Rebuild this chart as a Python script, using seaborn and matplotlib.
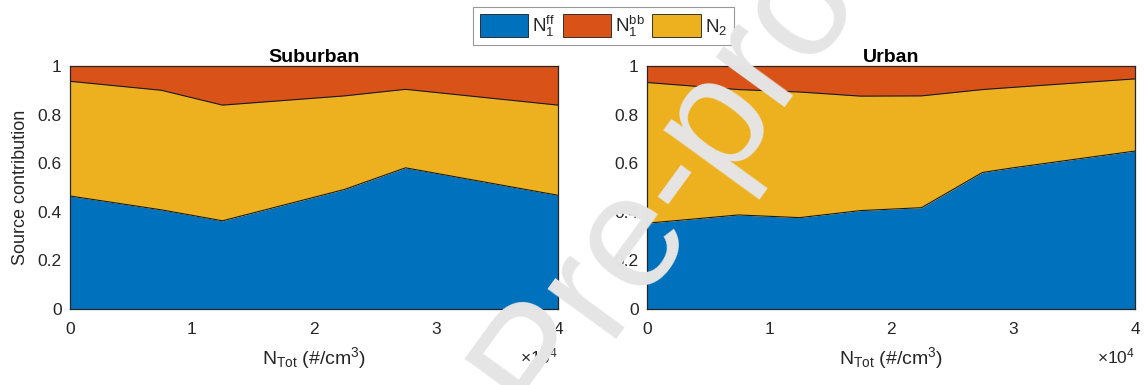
import matplotlib
matplotlib.use("Agg")
import matplotlib.pyplot as plt
import numpy as np
import pandas as pd
import seaborn as sns

# Particle number concentration (#/cm3) at which the source fractions are resolved
n_tot_suburban = [0, 7500, 12500, 22500, 27500, 40000]
n_tot_urban = [0, 7500, 12500, 17500, 22500, 27500, 30000, 40000]

# Source fractions: fossil-fuel N1, biomass-burning N1 and nucleation-mode N2
ff_suburban = [0.465, 0.408, 0.363, 0.492, 0.581, 0.468]
n2_suburban = [0.472, 0.492, 0.476, 0.385, 0.323, 0.371]
bb_suburban = [0.063, 0.100, 0.161, 0.123, 0.096, 0.161]

ff_urban = [0.353, 0.387, 0.376, 0.405, 0.417, 0.562, 0.581, 0.650]
n2_urban = [0.579, 0.516, 0.517, 0.471, 0.460, 0.341, 0.331, 0.297]
bb_urban = [0.068, 0.097, 0.107, 0.124, 0.123, 0.097, 0.088, 0.053]

panel_titles = ["Suburban", "Urban"]
source_labels = [r"N$_1^{\rm ff}$", r"N$_1^{\rm bb}$", r"N$_2$"]
x_ticks = [0, 10000, 20000, 30000, 40000]
x_tick_labels = ["0", "1", "2", "3", "4"]
y_ticks = [0, 0.2, 0.4, 0.6, 0.8, 1.0]
y_tick_labels = ["0", "0.2", "0.4", "0.6", "0.8", "1"]

C_FF = "#0072BD"
C_BB = "#D95319"
C_N2 = "#EDB120"
INK = "#262626"

sns.set_theme(style="white")
plt.rcParams["font.family"] = ["Liberation Sans", "DejaVu Sans"]
plt.rcParams["mathtext.fontset"] = "custom"
plt.rcParams["mathtext.rm"] = "Liberation Sans"
plt.rcParams["mathtext.it"] = "Liberation Sans:italic"
plt.rcParams["mathtext.bf"] = "Liberation Sans:bold"

W, H = 1145, 385
fig = plt.figure(figsize=(W / 100, H / 100), dpi=100)
fig.patch.set_facecolor("white")

panels = [
    (n_tot_suburban, ff_suburban, n2_suburban, bb_suburban, 70),
    (n_tot_urban, ff_urban, n2_urban, bb_urban, 647),
]

axes = []
for (x, ff, n2, bb, left_px), title in zip(panels, panel_titles):
    ax = fig.add_axes([left_px / W, (H - 309) / H, 488 / W, 243 / H])
    axes.append(ax)
    df = pd.DataFrame({"n_tot": x, "ff": ff, "n2": n2, "bb": bb})
    df["ff_top"] = df["ff"]
    df["n2_top"] = df["ff"] + df["n2"]
    df["bb_top"] = df["n2_top"] + df["bb"]

    ax.fill_between(df["n_tot"], 0, df["ff_top"], color=C_FF, lw=0, zorder=1)
    ax.fill_between(df["n_tot"], df["ff_top"], df["n2_top"], color=C_N2, lw=0, zorder=1)
    ax.fill_between(df["n_tot"], df["n2_top"], df["bb_top"], color=C_BB, lw=0, zorder=1)
    for col in ["ff_top", "n2_top"]:
        sns.lineplot(data=df, x="n_tot", y=col, ax=ax, color="#1a1a1a",
                     lw=0.8, zorder=2, legend=False)

    ax.set_xlim(0, 40000)
    ax.set_ylim(0, 1)
    ax.set_xticks(x_ticks)
    ax.set_xticklabels(x_tick_labels)
    ax.set_yticks(y_ticks)
    ax.set_yticklabels(y_tick_labels)
    ax.tick_params(direction="in", length=4, width=0.6, color=INK,
                   top=True, right=True, labelsize=12.5, labelcolor=INK, pad=6)
    ax.tick_params(axis="x", pad=9)
    for s in ax.spines.values():
        s.set_color(INK)
        s.set_linewidth(0.9)
        s.set_zorder(5)
    ax.set_title(title, fontsize=14, fontweight="bold", color="black", pad=3)
    ax.set_xlabel(r"N$_{\rm Tot}$ (#/cm$^3$)", fontsize=14, color=INK, labelpad=6)
    ax.set_ylabel("")
    ax.text(1.0, -0.222, r"$\times$10$^{4}$", transform=ax.transAxes,
            ha="right", va="baseline", fontsize=12.5, color=INK)

axes[0].set_ylabel("Source contribution", fontsize=13, color=INK, labelpad=6)

# Shared legend above the two panels
handles = [plt.Rectangle((0, 0), 1, 1, facecolor=c, edgecolor="#1a1a1a", lw=0.6)
           for c in (C_FF, C_BB, C_N2)]
leg = fig.legend(handles, source_labels, loc="upper left",
                 bbox_to_anchor=(473 / W, 1 - 7 / H), ncol=3, fontsize=13.5,
                 frameon=True, fancybox=False, handlelength=2.6, handleheight=1.45,
                 handletextpad=0.2, columnspacing=0.4, borderpad=0.35,
                 borderaxespad=0)
leg.get_frame().set_edgecolor("#7f7f7f")
leg.get_frame().set_linewidth(0.8)

# Diagonal watermark across the figure
fig.text(0.474, 0.039, "Journal Pre-proof", rotation=54, fontsize=116,
         color="#e5e5e5", ha="center", va="center", zorder=10,
         family="Liberation Sans")

fig.savefig("out.png", dpi=100)
